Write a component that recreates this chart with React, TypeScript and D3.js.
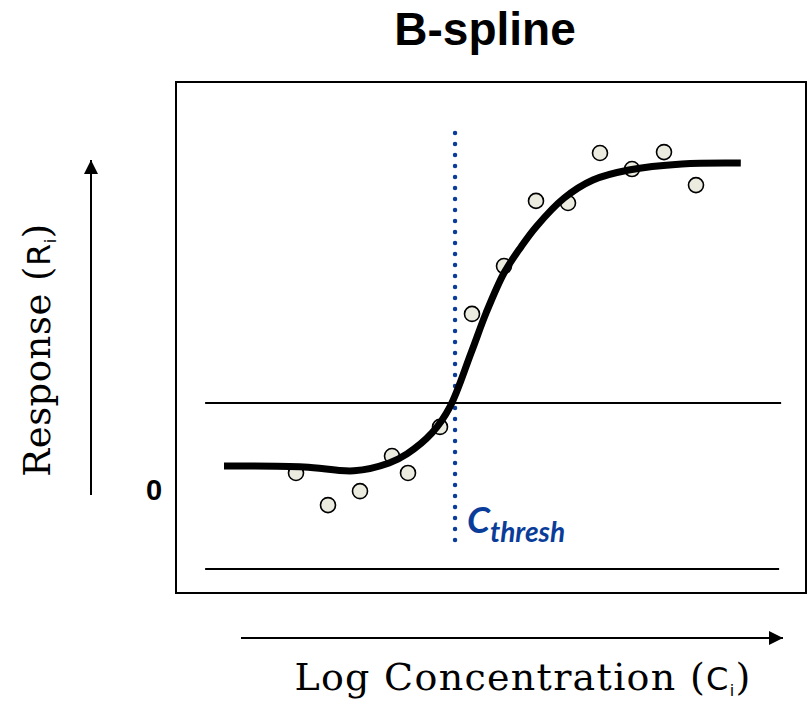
import React from "react";
import * as d3 from "d3";

const title = "B-spline";
const pointX = [1, 2, 3, 4, 4.5, 5.5, 6.5, 7.5, 8.5, 9.5, 10.5, 11.5, 12.5, 13.5];
const pointY = [-2.3, -12.9, -8.3, 3.3, -2.3, 12.9, 50.2, 66, 87.5, 86.8, 103.3, 98, 103.6, 92.7];
const curveX = [-1.25, 1.25, 2.81, 3.91, 4.47, 5.25, 5.81, 6.47, 6.94, 7.5, 8.03, 8.5, 9.375, 10.28, 11.4, 13.06, 14.9];
const curveY = [0, -0.3, -1.6, 1.0, 4.0, 10.9, 19.5, 37.3, 50.5, 63.7, 72.3, 78.9, 88.4, 94.4, 97.7, 99.7, 100];
const thresholdX = 5.97;
const thresholdY = 20.8;
const lowerY = -34;
const lineXRange = [-1.84, 16.16];

export default function App() {
  const W = 808, H = 702;
  const x = d3.scaleLinear().domain([0, 10]).range([264, 584]);
  const y = d3.scaleLinear().domain([0, 100]).range([466, 163]);
  const line = d3
    .line<number>()
    .x((_, i) => x(curveX[i]))
    .y((d) => y(d))
    .curve(d3.curveCatmullRom.alpha(0.5));
  const curvePath = line(curveY) || "";
  const blue = "#0a3d99";
  return (
    <svg
      width={W}
      height={H}
      style={{ position: "absolute", left: 0, top: 0, background: "#fff" }}
    >
      <defs>
        <marker id="ah" viewBox="0 0 10 10" refX="10" refY="5" markerWidth="14" markerHeight="14" markerUnits="userSpaceOnUse" orient="auto">
          <path d="M0,0 L10,5 L0,10 z" fill="#000" />
        </marker>
      </defs>
      <text x={485} y={45} textAnchor="middle" fontFamily="Liberation Sans, Arial, sans-serif" fontWeight="bold" fontSize={46}>
        {title}
      </text>
      <rect x={176} y={82} width={630} height={511} fill="none" stroke="#000" strokeWidth={2} />
      <line x1={x(lineXRange[0])} x2={x(lineXRange[1])} y1={y(thresholdY)} y2={y(thresholdY)} stroke="#000" strokeWidth={2} />
      <line x1={x(lineXRange[0])} x2={x(lineXRange[1]) - 2} y1={y(lowerY)} y2={y(lowerY)} stroke="#000" strokeWidth={2} />
      <line x1={x(thresholdX)} x2={x(thresholdX)} y1={133} y2={548} stroke={blue} strokeWidth={4.5} strokeDasharray="0 11" strokeLinecap="round" />
      {pointX.map((px, i) => (
        <circle key={i} cx={x(px)} cy={y(pointY[i])} r={7.5} fill="#ecebe0" stroke="#000" strokeWidth={1.6} />
      ))}
      <path d={curvePath} fill="none" stroke="#000" strokeWidth={7} />
      <text x={467} y={533} fill={blue} fontFamily="Lato, Noto Sans, sans-serif" fontWeight="bold" fontStyle="italic" fontSize={37}>
        C<tspan fontSize={28} dy={9}>thresh</tspan>
      </text>
      <text x={146} y={500} fontFamily="Liberation Sans, Arial, sans-serif" fontWeight="bold" fontSize={29}>0</text>
      <line x1={91} x2={91} y1={495} y2={160} stroke="#000" strokeWidth={2} markerEnd="url(#ah)" />
      <line x1={241} x2={783} y1={638} y2={638} stroke="#000" strokeWidth={2} markerEnd="url(#ah)" />
      <text transform="translate(50,350) rotate(-90)" textAnchor="middle" fontFamily="DejaVu Serif, serif" fontSize={37} letterSpacing={0.5}>
        Response (<tspan fontFamily="DejaVu Sans, sans-serif" fontSize={32}>R</tspan><tspan fontFamily="DejaVu Sans, sans-serif" fontSize={16} dy={6}>i</tspan><tspan dy={-6}>)</tspan>
      </text>
      <text x={523} y={690} textAnchor="middle" fontFamily="DejaVu Serif, serif" fontSize={38} letterSpacing={1.3}>
        Log Concentration (<tspan fontFamily="DejaVu Sans, sans-serif" fontSize={32}>C</tspan><tspan fontFamily="DejaVu Sans, sans-serif" fontSize={16} dy={6}>i</tspan><tspan dy={-6}>)</tspan>
      </text>
    </svg>
  );
}
